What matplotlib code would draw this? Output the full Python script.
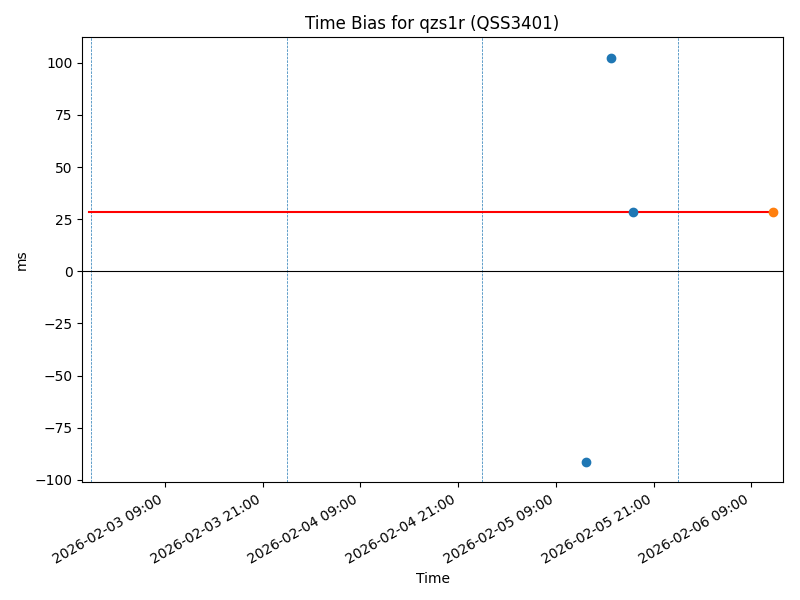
import matplotlib
matplotlib.use("Agg")
import matplotlib.pyplot as plt
import matplotlib.dates as mdates
import pandas as pd

# Data
blue_times = pd.to_datetime(["2026-02-05 12:45", "2026-02-05 15:50", "2026-02-05 18:30"])
blue_vals = [-91.5, 102.5, 28.3]
orange_times = pd.to_datetime(["2026-02-06 11:42"])
orange_vals = [28.3]
ref_line_times = pd.to_datetime(["2026-02-02 23:41", "2026-02-06 11:42"])
ref_line_val = 28.3
day_lines = pd.to_datetime(["2026-02-03 00:00", "2026-02-04 00:00", "2026-02-05 00:00", "2026-02-06 00:00"])
x_limits = pd.to_datetime(["2026-02-02 22:53", "2026-02-06 12:51"])

fig, ax = plt.subplots(figsize=(8, 6), dpi=100)
fig.subplots_adjust(left=0.1029, right=0.9784, top=0.9378, bottom=0.1962)

for d in day_lines:
    ax.axvline(d, color="tab:blue", linestyle="--", linewidth=0.5)
ax.axhline(0, color="black", linewidth=0.8)
ax.plot(ref_line_times, [ref_line_val] * len(ref_line_times), color="red", linewidth=1.5)
ax.scatter(blue_times, blue_vals, color="tab:blue", zorder=3)
ax.scatter(orange_times, orange_vals, color="tab:orange", zorder=3)

ax.set_xlim(x_limits[0], x_limits[1])
ax.xaxis.set_major_locator(mdates.HourLocator(byhour=[9, 21]))
ax.xaxis.set_major_formatter(mdates.DateFormatter("%Y-%m-%d %H:%M"))
for lbl in ax.get_xticklabels():
    lbl.set_rotation(30)
    lbl.set_ha("right")

ax.set_title("Time Bias for qzs1r (QSS3401)")
ax.set_xlabel("Time")
ax.set_ylabel("ms")

fig.savefig("out.png", dpi=100)
